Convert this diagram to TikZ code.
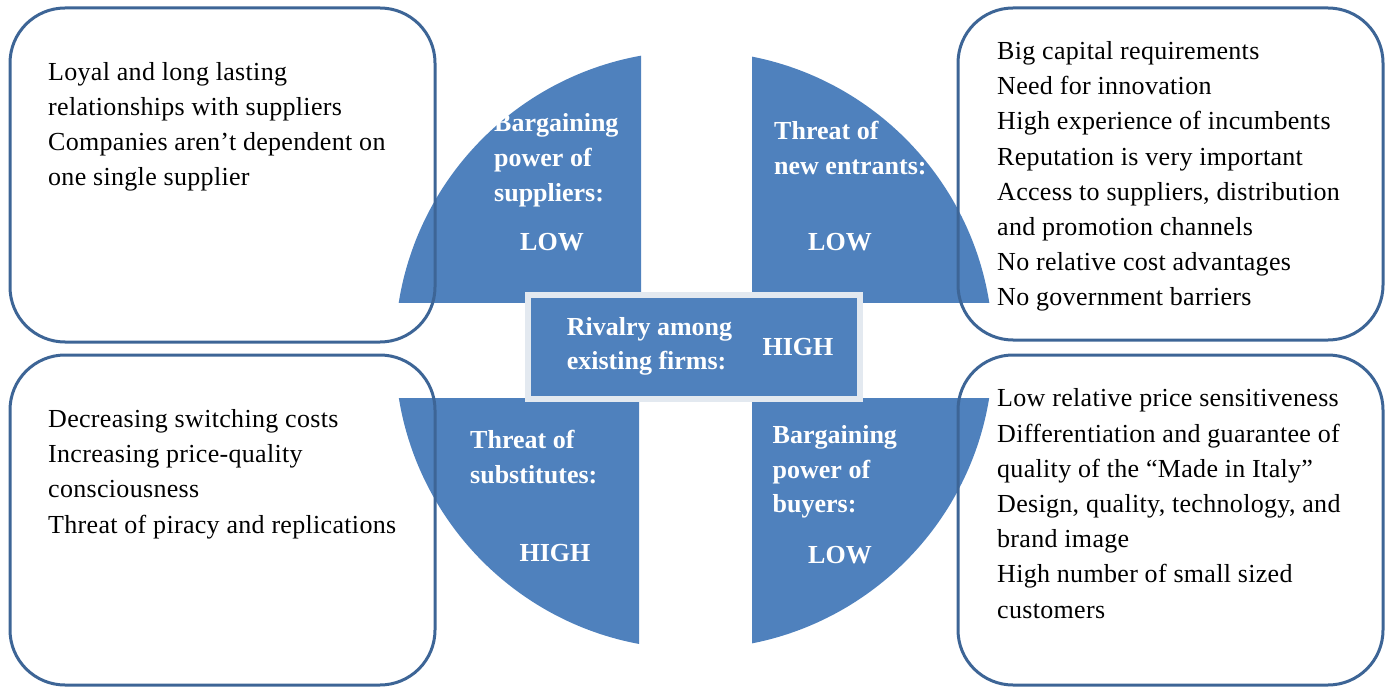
\documentclass[tikz,border=0pt]{standalone}
\usepackage{fontspec}
\setmainfont{Liberation Serif}
\newfontfamily\spacedserif[LetterSpace=1.2]{Liberation Serif}
\definecolor{pblue}{HTML}{4F81BD}
\definecolor{pline}{HTML}{3D6596}
\definecolor{framecol}{HTML}{E3E9F0}
\begin{document}
\begin{tikzpicture}[x=1pt,y=-1pt,
  txt/.style={anchor=north west, inner sep=0pt, align=left, font=\spacedserif\fontsize{26}{35.2}\selectfont},
  btxt/.style={anchor=north west, inner sep=0pt, align=left, text=white, font=\bfseries\fontsize{26}{34.8}\selectfont},
  lvl/.style={anchor=base, inner sep=0pt, text=white, font=\bfseries\fontsize{26}{30}\selectfont},
  panel/.style={draw=pline, line width=3pt, rounded corners=55pt}]
\useasboundingbox (0,0) rectangle (1386,687);
% circle pieces
\begin{scope}\clip (380,40) rectangle (641,302); \fill[pblue] (694,350) circle[radius=299]; \end{scope}
\begin{scope}\clip (752,40) rectangle (1010,302); \fill[pblue] (694,350) circle[radius=299]; \end{scope}
\begin{scope}\clip (380,398) rectangle (639,660); \fill[pblue] (694,350) circle[radius=299]; \end{scope}
\begin{scope}\clip (752,398) rectangle (1010,660); \fill[pblue] (694,350) circle[radius=299]; \end{scope}
% center box
\node[fill=pblue, draw=framecol, line width=6pt, minimum width=332pt, minimum height=104pt, inner sep=0pt] (rivbox) at (694,347) {};
% panels
\draw[panel] (10,8) rectangle (435,342);
\draw[panel] (10,355) rectangle (435,685);
\draw[panel] (958,8) rectangle (1383,340);
\draw[panel] (958,355) rectangle (1383,685);
% panel texts
\node[txt] (tl) at (48,62) {Loyal and long lasting\\relationships with suppliers\\Companies aren’t dependent on\\one single supplier};
\node[txt] (tr) at (997,41.3) {Big capital requirements\\Need for innovation\\High experience of incumbents\\Reputation is very important\\Access to suppliers, distribution\\and promotion channels\\No relative cost advantages\\No government barriers};
\node[txt] (bl) at (48,409.3) {Decreasing switching costs\\Increasing price-quality\\consciousness\\Threat of piracy and replications};
\node[txt] (br) at (997,388.7) {Low relative price sensitiveness\\Differentiation and guarantee of\\quality of the “Made in Italy”\\Design, quality, technology, and\\brand image\\High number of small sized\\customers};
% piece texts
\node[btxt] (sup) at (494,113.7) {Bargaining\\power of\\suppliers:};
\node[lvl] (suplvl) at (552,250.7) {LOW};
\node[btxt] (ent) at (774,120.8) {Threat of\\new entrants:};
\node[lvl] (entlvl) at (840,250.7) {LOW};
\node[btxt] (sub) at (470,430.3) {Threat of\\substitutes:};
\node[lvl] (sublvl) at (555,561.7) {HIGH};
\node[btxt] (buy) at (772.5,425) {Bargaining\\power of\\buyers:};
\node[lvl] (buylvl) at (840,563.7) {LOW};
\node[btxt, font=\bfseries\fontsize{26}{33.4}\selectfont] (riv) at (566.6,317.6) {Rivalry among\\existing firms:};
\node[lvl] (rivlvl) at (798,355) {HIGH};
\end{tikzpicture}
\end{document}
